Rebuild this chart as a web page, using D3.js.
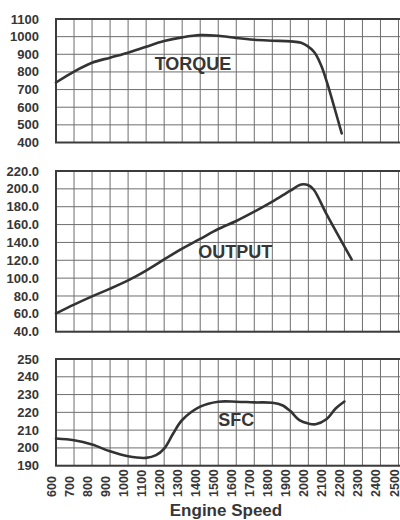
<!DOCTYPE html>
<html>
<head>
<meta charset="utf-8">
<script src="https://cdn.jsdelivr.net/npm/d3@7"></script>
<style>
  body { margin: 0; background: #fff; }
  svg { display: block; }
  text { font-family: "Liberation Sans", Arial, sans-serif; font-weight: bold; fill: #363636; }
</style>
</head>
<body>
<svg width="400" height="520"></svg>
<script>
// engine speed ticks (rpm)
const speedTicks = d3.range(600, 2501, 100);

// torque curve
const torqueRpm = [600, 700, 800, 900, 1000, 1100, 1200, 1300, 1400, 1500, 1600, 1700, 1800, 1900, 1960, 2030, 2070, 2105, 2140, 2185];
const torqueVal = [740, 802, 852, 881, 909, 943, 975, 996, 1009, 1005, 992, 982, 977, 973, 965, 915, 839, 735, 613, 452];
const torqueTicks = [1100, 1000, 900, 800, 700, 600, 500, 400];

// output curve
const outputRpm = [600, 700, 800, 900, 1000, 1100, 1200, 1300, 1400, 1500, 1600, 1700, 1800, 1900, 1960, 2000, 2030, 2100, 2240];
const outputVal = [60.5, 70.4, 79.6, 88.2, 97.5, 108.5, 121, 133, 144, 155, 164, 174.4, 185.6, 198, 204.8, 204, 199, 172, 121];
const outputTicks = [220, 200, 180, 160, 140, 120, 100, 80, 60, 40];

// specific fuel consumption curve
const sfcRpm = [600, 700, 800, 900, 1000, 1100, 1155, 1200, 1250, 1300, 1400, 1500, 1600, 1700, 1800, 1855, 1900, 1950, 2000, 2040, 2100, 2150, 2200];
const sfcVal = [205.3, 204.3, 201.9, 198.1, 195.3, 194.4, 195.9, 199.6, 208.1, 215.7, 223.2, 226, 226, 225.6, 225.4, 224, 220.7, 215.6, 213.7, 213.3, 216.1, 222, 226.1];
const sfcTicks = [250, 240, 230, 220, 210, 200, 190];

// panel definitions
let panels = [
    {rpm: torqueRpm, val: torqueVal, ticks: torqueTicks, fmt: d3.format("d"), top: 19, bottom: 142.5,
     label: "TORQUE", labelAt: [1360, 850]},
    {rpm: outputRpm, val: outputVal, ticks: outputTicks, fmt: d3.format(".1f"), top: 171, bottom: 331.7,
     label: "OUTPUT", labelAt: [1595, 129.5]},
    {rpm: sfcRpm, val: sfcVal, ticks: sfcTicks, fmt: d3.format("d"), top: 359, bottom: 465.7,
     label: "SFC", labelAt: [1600, 215.7]}
];

const svg = d3.select("svg");
const x = d3.scaleLinear().domain([600, 2500]).range([56, 398.5]);

panels.forEach(p => {
    let y = d3.scaleLinear()
        .domain([d3.min(p.ticks), d3.max(p.ticks)])
        .range([p.bottom, p.top]);
    let g = svg.append("g");

    // grid
    g.selectAll("line.v")
            .data(speedTicks)
        .enter().append("line")
            .attr("x1", d => x(d)).attr("x2", d => x(d))
            .attr("y1", p.top).attr("y2", p.bottom)
            .attr("stroke", "#6e6e6e").attr("stroke-width", 1);
    g.selectAll("line.h")
            .data(p.ticks)
        .enter().append("line")
            .attr("x1", x(600)).attr("x2", 402)
            .attr("y1", d => y(d)).attr("y2", d => y(d))
            .attr("stroke", "#6e6e6e").attr("stroke-width", 1);

    // frame
    g.append("rect")
        .attr("x", x(600)).attr("y", p.top)
        .attr("width", 402 - x(600)).attr("height", p.bottom - p.top)
        .attr("fill", "none").attr("stroke", "#3c3c3c").attr("stroke-width", 2);

    // y tick labels
    g.selectAll("text.tick")
            .data(p.ticks)
        .enter().append("text")
            .attr("x", 39)
            .attr("y", d => y(d))
            .attr("dy", "0.35em")
            .attr("text-anchor", "end")
            .attr("font-size", 13)
            .text(d => p.fmt(d));

    // curve
    let line = d3.line()
        .x((d, i) => x(p.rpm[i]))
        .y(d => y(d))
        .curve(d3.curveCatmullRom.alpha(0.5));
    g.append("path")
        .attr("d", line(p.val))
        .attr("fill", "none")
        .attr("stroke", "#333")
        .attr("stroke-width", 2.6)
        .attr("stroke-linecap", "round");

    g.append("text")
        .attr("x", x(p.labelAt[0]))
        .attr("y", y(p.labelAt[1]))
        .attr("dy", "0.36em")
        .attr("text-anchor", "middle")
        .attr("font-size", 18)
        .text(p.label);
});

// x tick labels, rotated
svg.append("g").selectAll("text")
        .data(speedTicks)
    .enter().append("text")
        .attr("transform", d => `translate(${x(d)},497) rotate(-90)`)
        .attr("font-size", 12.5)
        .text(d => d);

svg.append("text")
    .attr("x", 226)
    .attr("y", 516)
    .attr("text-anchor", "middle")
    .attr("font-size", 17)
    .text("Engine Speed");
</script>
</body>
</html>
